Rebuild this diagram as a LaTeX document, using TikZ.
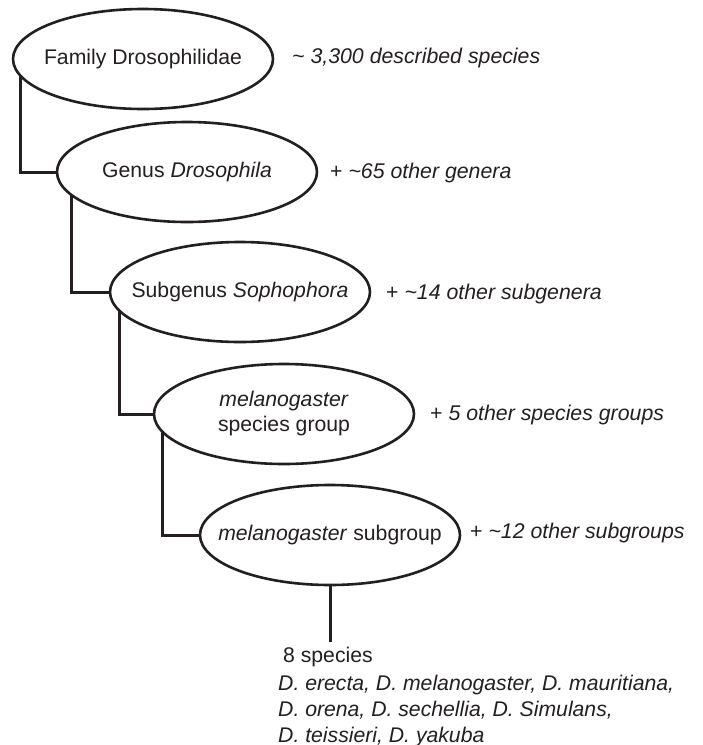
\documentclass[tikz,border=0pt]{standalone}
\usepackage{fontspec}
\setmainfont{Liberation Sans}
\usetikzlibrary{shapes.geometric,backgrounds}
\definecolor{ink}{RGB}{35,31,32}
\newcommand{\zw}[1]{\makebox[0pt][c]{#1}}
\begin{document}
\begin{tikzpicture}[x=1pt,y=-1pt,
  taxon/.style={ellipse,draw=ink,line width=2.6pt,fill=white,inner sep=0pt,
    minimum width=260pt,minimum height=100pt,align=center,text=ink,
    font=\fontsize{21.2}{25}\selectfont},
  link/.style={draw=ink,line width=3pt},
  note/.style={anchor=west,inner sep=0pt,text=ink,font=\fontsize{21.3}{25}\selectfont},
  plain/.style={inner sep=0pt,text=ink,font=\fontsize{21.2}{26}\selectfont,align=left}]
\useasboundingbox (0,0) rectangle (703,745);
\node[taxon] (e1) at (143,59) {\zw{Family Drosophilidae}};
\node[taxon] (e2) at (187,172) {\zw{Genus \textit{Drosophila}}};
\node[taxon] (e3) at (240,292) {\zw{Subgenus \textit{Sophophora}}};
\node[taxon] (e4) at (284,414) {\zw{\textit{melanogaster}}\\\zw{species group}};
\node[taxon] (e5) at (330,535) {\zw{\textit{melanogaster} subgroup}};
\begin{scope}[on background layer]
\draw[link] (e1.center) ++(-123,0) |- (e2.west);
\draw[link] (e2.center) ++(-116,0) |- (e3.west);
\draw[link] (e3.center) ++(-121,0) |- (e4.west);
\draw[link] (e4.center) ++(-122,0) |- (e5.west);
\end{scope}
\coordinate (leaf) at (330,642);
\draw[link] (e5.south) -- (leaf);
\node[note] (n1) at (292,58) {\textit{\textasciitilde\ 3,300 described species}};
\node[note] (n2) at (330,173) {+ \textit{\textasciitilde65 other genera}};
\node[note] (n3) at (386,294) {+ \textit{\textasciitilde14 other subgenera}};
\node[note] (n4) at (430,415) {+ \textit{5 other species groups}};
\node[note] (n5) at (470,533) {+ \textit{\textasciitilde12 other subgroups}};
\node[plain,anchor=base west] (sp) at (283,662) {8 species};
\node[plain,anchor=north west] (list) at (278,674.5) {\textit{D. erecta, D. melanogaster, D. mauritiana,}\\\textit{D. orena, D. sechellia, D. Simulans,}\\\textit{D. teissieri, D. yakuba}};
\end{tikzpicture}
\end{document}
